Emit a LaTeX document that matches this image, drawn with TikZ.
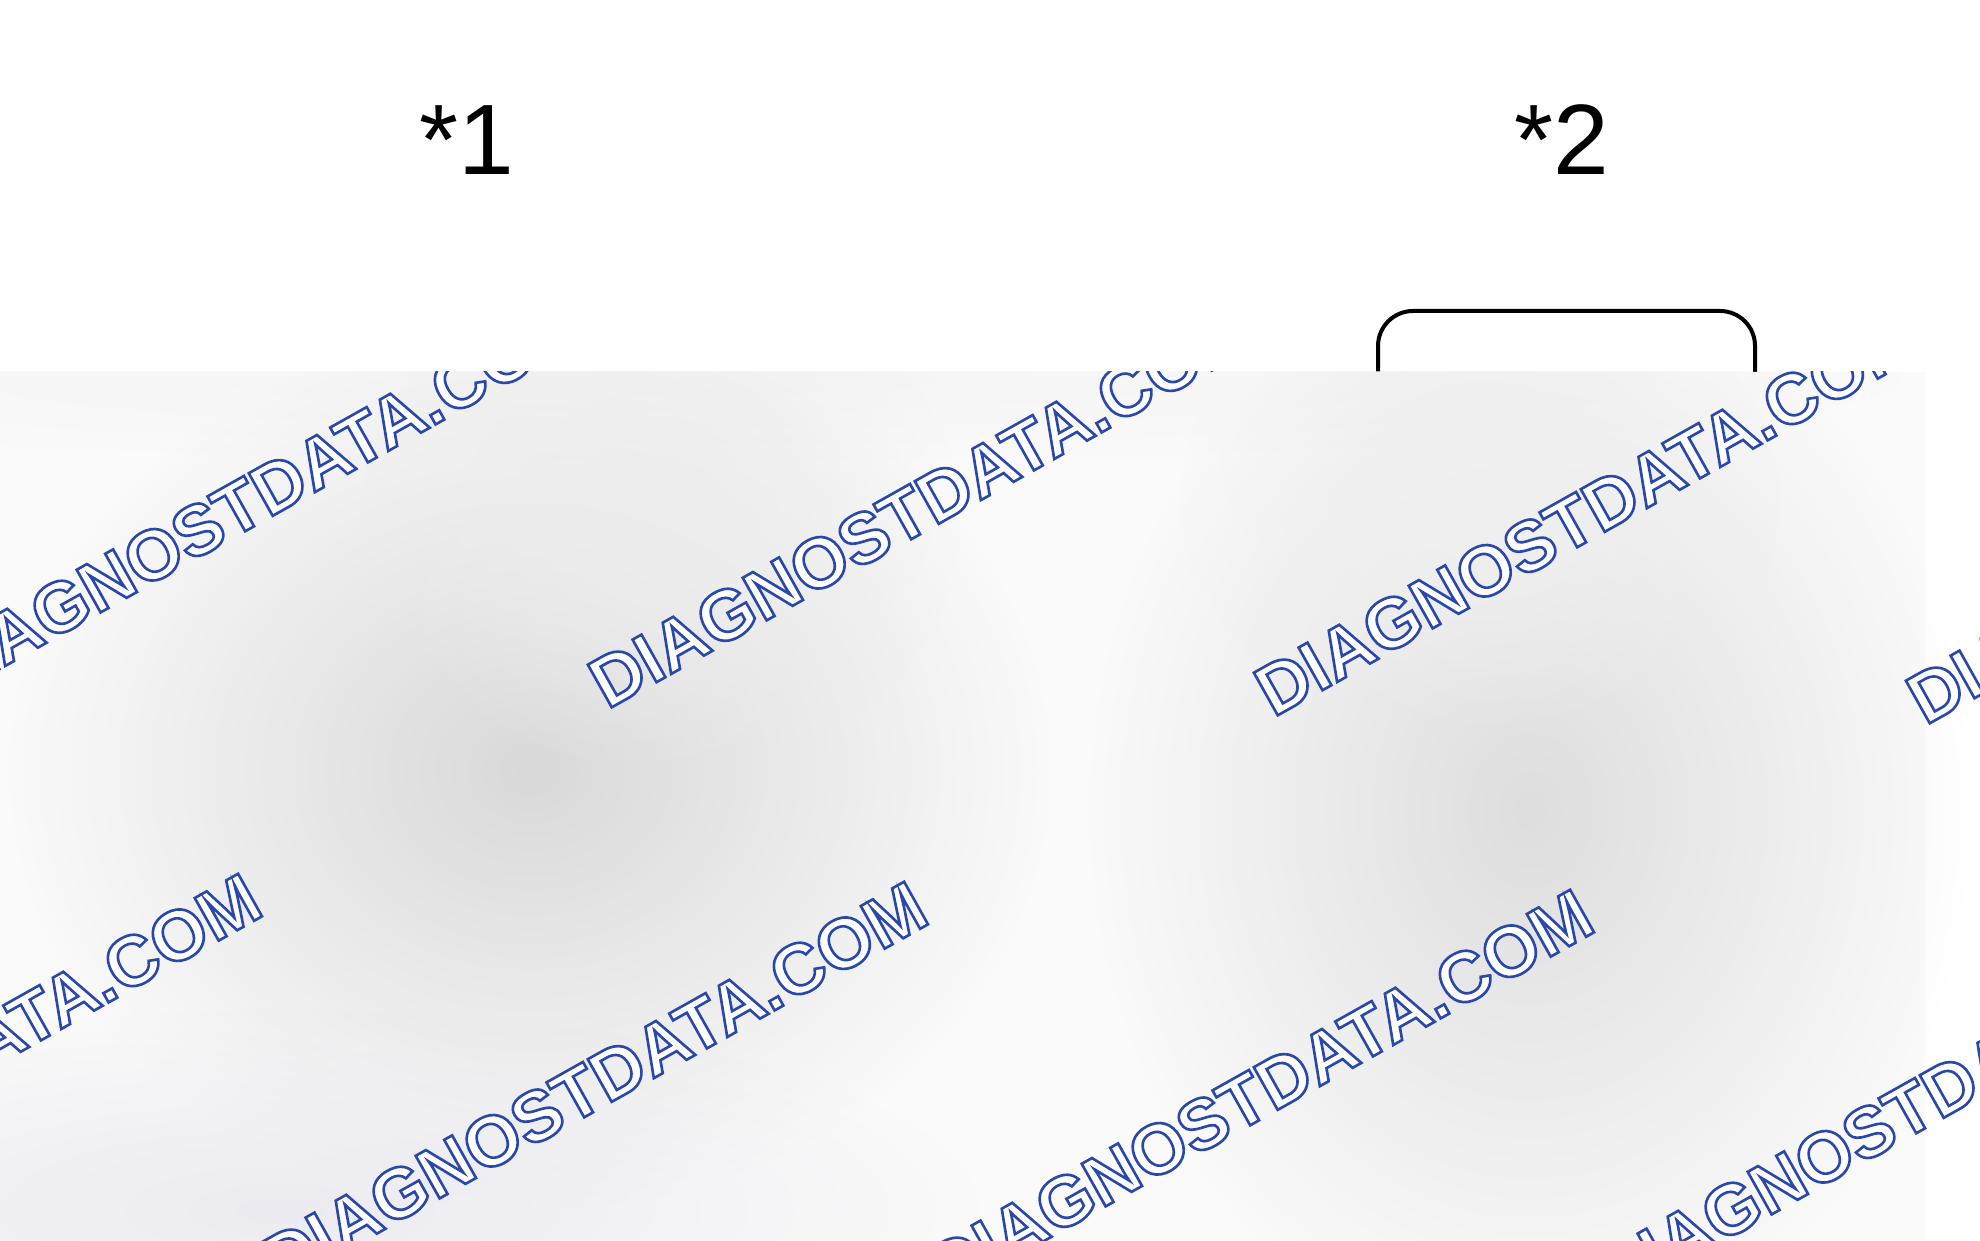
\documentclass[tikz,border=0pt]{standalone}
\usepackage{fontspec}
\setmainfont{Liberation Sans}
\usetikzlibrary{fadings}
\definecolor{wmblue}{HTML}{2A48AA}
\definecolor{bgbase}{HTML}{FAFAFA}
\tikzfading[name=blobfade, inner color=transparent!0, outer color=transparent!100]
\tikzset{
  label/.style={inner sep=0pt, anchor=base, font=\fontsize{28.45}{34}\selectfont},
  wm/.style={inner sep=0pt, anchor=base west, rotate=29.3,
    font=\fontsize{20.2}{24}\selectfont\bfseries},
  plug/.style={line width=0.04cm, rounded corners=0.35cm},
}
\newcommand\wmtext{\textcolor{white}{\special{pdf:literal direct 0.165 0.282 0.667 RG 0.75 w 2 Tr}DIAGNOSTDATA.COM\special{pdf:literal direct 0 Tr}}}
\newcommand\blobat[5]{\fill[#5, path fading=blobfade] (#1,#2) ellipse [x radius=#3cm, y radius=#4cm];}
\begin{document}
\begin{tikzpicture}[x=0.01cm, y=0.01cm]
\useasboundingbox (0,0) rectangle (1980,1240);
\fill[white] (0,0) rectangle (1980,1240);
% labels
\node[label] (l1) at (467,1065) {*1};
\node[label] (l2) at (1562,1065) {*2};
% partial connector outline
\coordinate (pa) at (1378,850);
\coordinate (pb) at (1755,850);
\draw[plug] (pa) -- (1378,929) -- (1755,929) -- (pb);
% obscured lower region
\begin{scope}
\clip (0,0) rectangle (1980,868);
\fill[bgbase] (0,0) rectangle (1925,868);
\blobat{700}{860}{12}{0.8}{black!4}
\blobat{530}{470}{5.2}{4.4}{black!15}
\blobat{660}{720}{3.0}{2.6}{black!7}
\blobat{1530}{430}{4.4}{5.4}{black!13}
\blobat{1480}{740}{3.0}{2.4}{black!6}
\blobat{280}{30}{7.0}{2.0}{blue!30!black!8}
\node[wm] (w1) at (-59,538) {\wmtext};
\node[wm] (w2) at (607,530) {\wmtext};
\node[wm] (w3) at (1273,522) {\wmtext};
\node[wm] (w4) at (1925,514) {\wmtext};
\node[wm] (w5) at (-386,-40) {\wmtext};
\node[wm] (w6) at (280,-48) {\wmtext};
\node[wm] (w7) at (946,-56) {\wmtext};
\node[wm] (w8) at (1612,-64) {\wmtext};
\end{scope}
\end{tikzpicture}
\end{document}
